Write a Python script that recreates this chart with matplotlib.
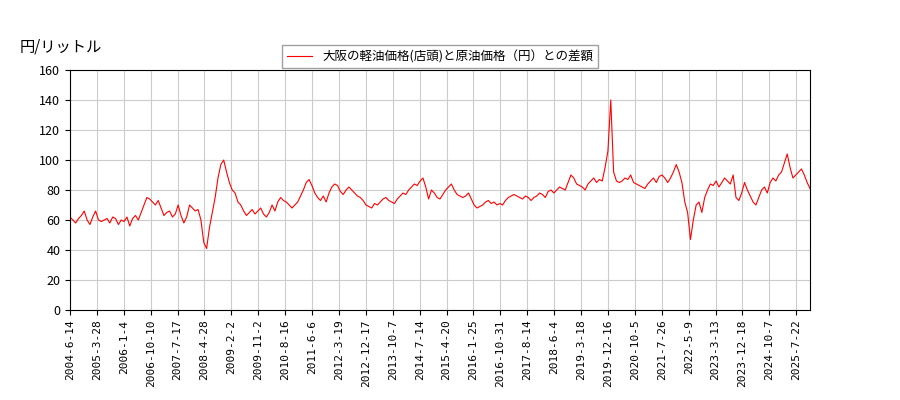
import matplotlib
matplotlib.use("Agg")
import matplotlib.pyplot as plt
import numpy as np

plt.rcParams['font.family'] = ['Noto Sans CJK JP', 'DejaVu Sans']

tick_labels = ["2004-6-14","2005-3-28","2006-1-4","2006-10-10","2007-7-17","2008-4-28","2009-2-2",
"2009-11-2","2010-8-16","2011-6-6","2012-3-19","2012-12-17","2013-10-7","2014-7-14","2015-4-20",
"2016-1-25","2016-10-31","2017-8-14","2018-6-4","2019-3-18","2019-12-16","2020-10-5","2021-7-26",
"2022-5-9","2023-3-13","2023-12-18","2024-10-7","2025-7-22"]

values = [
62,60,58,61,63,66,60,
57,62,66,60,59,60,61,58,62,61,57,60,
59,62,56,61,63,60,65,70,75,74,72,70,
73,68,63,65,66,62,64,70,63,58,62,70,
68,66,67,60,45,41,55,65,75,88,97,100,
92,85,80,78,72,70,66,63,65,67,64,66,
68,64,62,65,70,66,72,75,73,72,70,68,
70,72,76,80,85,87,83,78,75,73,76,72,
78,82,84,83,79,77,80,82,80,78,76,75,
73,70,69,68,71,70,72,74,75,73,72,71,
74,76,78,77,80,82,84,83,86,88,82,74,
80,78,75,74,77,80,82,84,80,77,76,75,
76,78,74,70,68,69,70,72,73,71,72,70,
71,70,73,75,76,77,76,75,74,76,75,73,
75,76,78,77,75,79,80,78,80,82,81,80,
85,90,88,84,83,82,80,84,86,88,85,87,
86,95,106,140,92,86,85,86,88,87,90,85,
84,83,82,81,84,86,88,85,89,90,88,85,
88,92,97,92,85,72,65,47,60,70,72,65,
75,80,84,83,86,82,85,88,86,84,90,75,
73,78,85,80,76,72,70,75,80,82,78,85,
88,86,90,92,98,104,95,88,90,92,94,90,
85,81]

N = len(values)
x = np.arange(N)

fig = plt.figure(figsize=(9, 4), dpi=100)
ax = fig.add_axes([70/900, 90/400, 740/900, 240/400])
ax.plot(x, values, color='red', lw=0.8, label='大阪の軽油価格(店頭)と原油価格（円）との差額')
ax.set_xlim(0, N - 1)
ax.set_ylim(0, 160)
ax.set_yticks(range(0, 161, 20))
step = 26.9 / 740 * (N - 1)
ax.set_xticks([k * step for k in range(len(tick_labels))])
ax.set_xticklabels(tick_labels, rotation=90, fontsize=8, family=['DejaVu Sans Mono', 'DejaVu Sans'])
ax.tick_params(axis='y', labelsize=9)
ax.grid(True, color='#cccccc', lw=0.8)
ax.set_axisbelow(True)
ax.legend(loc='upper center', bbox_to_anchor=(0.5, 1.13), fontsize=9, frameon=True,
          fancybox=False, edgecolor='#888888')
fig.text(20/900, 1 - 47/400, '円/リットル', fontsize=11, va='center')
fig.savefig('out.png')
